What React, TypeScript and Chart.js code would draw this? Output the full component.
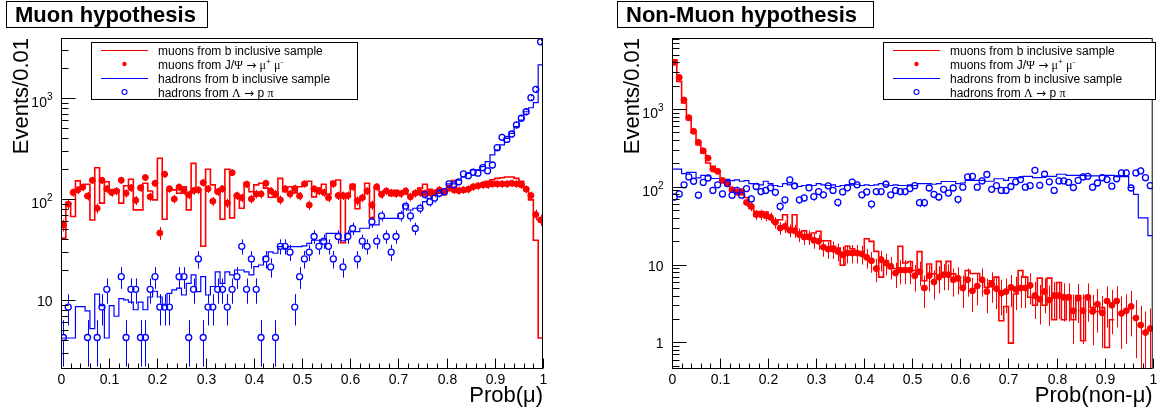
import React, { useEffect, useRef } from "react";
import { Chart, registerables } from "chart.js";

Chart.register(...registerables);

const FONT = '"Liberation Sans", Arial, Helvetica, sans-serif';
const GREEK_FONT = '"Liberation Serif", "DejaVu Serif", serif';
const ARROW_FONT = '"DejaVu Sans", sans-serif';
const RED = "#ff0000";
const BLUE = "#0000ff";

// 100 bins of width 0.01 on [0, 1]
const BIN_WIDTH = 0.01;

const xTickValues = [0, 0.1, 0.2, 0.3, 0.4, 0.5, 0.6, 0.7, 0.8, 0.9, 1];
const xTickLabels = ["0", "0.1", "0.2", "0.3", "0.4", "0.5", "0.6", "0.7", "0.8", "0.9", "1"];

const legendTexts = [
  "muons from b inclusive sample",
  "muons from J/\u03A8 \u2192 \u03BC^{+} \u03BC^{-}",
  "hadrons from b inclusive sample",
  "hadrons from \u039B \u2192 p \u03C0",
];

// ---------------- Muon hypothesis ----------------
const muHypYTickValues = [10, 100, 1000];
const muHypYTickLabels = ["10", "10^{2}", "10^{3}"];

const muHypMuonsB = [
  41, 91, 67, 151, 138, 140, 62, 204, 91, 148, 123, 123, 91, 135, 157, 78, 78, 143, 120, 98,
  253, 63, 123, 123, 114, 132, 78, 225, 123, 34, 197, 138, 121, 63, 197, 65, 110, 81, 145, 118,
  138, 143, 128, 104, 105, 160, 118, 132, 115, 132,
  135, 150, 105, 128, 140, 112, 150, 154, 37, 107, 140, 80, 100, 143, 65, 128, 118, 120, 108, 122,
  118, 112, 110, 118, 128, 140, 125, 112, 118, 110, 125, 152, 118, 118, 122, 130, 132, 140, 150, 155,
  160, 162, 165, 165, 160, 150, 130, 98, 39, 4.2,
];

const muHypMuonsJpsi = [
  55, 89, 116, 123, 131, 107, 153, 81, 153, 126, 116, 120, 153, 114, 129, 97, 129, 163, 105, 143,
  46, 176, 126, 100, 131, 121, 110, 121, 123, 145, 126, 95, 118, 126, 91, 182, 108, 103, 140, 100,
  112, 112, 143, 120, 112, 98, 126, 112, 127, 107,
  141, 87, 126, 120, 116, 103, 141, 108, 108, 108, 132, 96, 103, 120, 87, 132, 111, 120, 115, 113,
  113, 120, 105, 114, 116, 114, 115, 115, 123, 118, 128, 123, 121, 123, 125, 132, 135, 138, 138, 141,
  141, 141, 141, 143, 141, 138, 125, 108, 70, 62,
];

const muHypHadronsB = [
  4.2, 4.2, 4.2, 8.6, 8.6, 7.8, 5.2, 11.4, 8.8, 4.2, 8.8, 6.9, 10.3, 10, 9.5, 8, 9.5, 8, 10.7, 12.2,
  10.7, 8.9, 11.6, 12.6, 13.1, 11.2, 14.6, 17.7, 12.1, 17, 11.2, 13.6, 19, 14.6, 19, 17.7, 19.8, 19.8, 19, 17.7,
  21.4, 22.2, 26.9, 30, 29, 33.7, 32.4, 33.7, 33.7, 33.7,
  34.3, 36.4, 39, 39, 39.3, 45.7, 45.7, 45.7, 38.6, 45.7, 47.5, 47.5, 51.3, 51.3, 55.4, 55.4, 64.4, 64.4, 64.4, 64.4,
  72.2, 87.2, 77.8, 80.9, 80.9, 94.1, 101.6, 109.6, 113.8, 113.8, 140.8, 140.8, 154, 165, 179.6, 193.8, 193.8, 209, 234, 273,
  305.6, 342.7, 399, 447, 520, 605, 731, 800, 900, 2123,
];

const muHypHadronsLambda = [
  4.25, 8.5, 0, 0, 0, 4.25, 0, 4.25, 8.5, 12.75, 0, 0, 17, 4.25, 12.75, 12.75, 4.25, 4.25, 12.75, 17,
  8.5, 8.5, 8.5, 0, 17, 17, 4.25, 12.75, 25.5, 4.25, 8.5, 8.5, 12.75, 12.75, 8.5, 12.75, 17, 34, 12.75, 25.5,
  12.75, 4.25, 25.5, 21.25, 4.25, 34, 34, 29.75, 8.5, 17,
  25.5, 29.75, 42.5, 34, 38.25, 34, 25.5, 42.5, 21.25, 42.5, 51, 25.5, 38.25, 34, 59.5, 38.25, 68, 42.5, 29.75, 42.5,
  68, 85, 68, 51, 80.75, 110.5, 93.5, 102, 114, 118, 141, 138, 148, 177, 170, 184, 180, 204, 190, 217,
  322, 408, 389, 440, 541, 630, 731, 1007, 1219, 3600,
];

// ---------------- Non-Muon hypothesis ----------------
const nonMuYTickValues = [1, 10, 100, 1000];
const nonMuYTickLabels = ["1", "10", "10^{2}", "10^{3}"];

const nonMuMuonsB = [
  4300, 2270, 1195, 730, 491, 347, 272, 202, 183, 155, 120, 112, 92, 90, 79, 73, 53, 48, 48, 47.5,
  39.7, 35.3, 37.8, 43.8, 27.3, 43.8, 26, 27.3, 24.3, 25.5, 26.8, 20.3, 20.3, 17.2, 16.3, 9.8, 17.2, 16, 13.7, 14,
  21.5, 19.9, 14.8, 6.9, 11.2, 8.9, 8.9, 17.2, 10.5, 10.9,
  8.4, 14.7, 6.2, 10.2, 7.6, 11, 7.6, 11, 7.6, 6.2, 5.0, 8.4, 7.7, 7.7, 6.2, 5.1, 6.2, 6.9, 1.9, 2.9,
  0.98, 4.2, 8.4, 6.9, 3.8, 3.0, 6.7, 3.0, 6.7, 1.96, 5.9, 1.96, 4.0, 1.96, 4.0, 1.05, 4.0, 2.8, 2.5, 2.8,
  0.86, 1.96, 1.96, 0, 0.97, 0, 0.97, 0, 0, 0,
];

const nonMuMuonsJpsi = [
  3981, 2552, 1305, 775, 517, 373, 291, 234, 169, 158, 121, 110, 92, 86, 87, 63, 56, 44, 44, 42.5,
  40.5, 35, 29.5, 31, 27.6, 27.3, 24.3, 22.6, 22.6, 20.5, 19.9, 16.7, 15.8, 15.8, 14.8, 13.4, 14.1, 14.1, 14.1, 13.7,
  12.4, 11.2, 8.9, 11.6, 10.5, 9.5, 7.8, 8.5, 8.5, 8.5,
  7.2, 8.1, 5.0, 7.2, 6.0, 6.9, 7.4, 7.4, 6.4, 6.7, 5.0, 6.4, 4.6, 5.3, 6.4, 4.5, 5.6, 4.9, 4.3, 4.5,
  5.1, 4.8, 5.0, 5.0, 5.4, 4.0, 3.6, 4.5, 3.5, 4.0, 4.0, 3.8, 3.8, 2.55, 3.7, 2.55, 3.8, 2.5, 3.1, 2.4,
  3.4, 3.0, 3.4, 2.36, 2.55, 2.9, 2.06, 1.67, 1.34, 1.51,
];

const nonMuHadronsB = [
  169, 169, 148, 153, 153, 130, 140, 138, 128, 128, 123, 125, 120, 123, 118, 120, 110, 110, 106, 118,
  110, 104, 101, 110, 106, 110, 101, 104, 106, 104, 110, 106, 104, 106, 101, 104, 106, 110, 108, 104,
  106, 104, 106, 110, 106, 104, 106, 104, 104, 106,
  104, 110, 110, 110, 108, 110, 117, 117, 117, 110, 112, 121, 121, 121, 121, 118, 118, 127, 127, 121,
  131, 131, 131, 136, 136, 131, 131, 136, 136, 136, 145, 145, 140, 140, 140, 140, 138, 138, 138, 140,
  140, 140, 135, 135, 135, 98, 80, 40, 40, 23.6,
];

const nonMuHadronsLambda = [
  74, 81, 106, 134, 118, 78, 114, 130, 90, 106, 81, 110, 78, 90, 78, 95, 70, 101, 87, 90,
  97, 85, 56, 68, 123, 103, 68, 72, 97, 75, 87, 79, 103, 90, 63, 86, 97, 115, 106, 79,
  86, 60, 87, 87, 108, 79, 90, 87, 87, 95,
  103.5, 62.5, 62.5, 96.6, 80, 74, 93, 83, 96.6, 69, 99, 134, 136.5, 99, 119, 144, 93, 103.5, 90, 90,
  101, 116, 124, 99, 103.5, 163, 104.5, 145, 116, 90, 119, 119, 114, 98, 121, 134, 136.5, 99, 112, 131,
  124, 102, 127, 151, 151, 96.6, 151, 160, 131, 103.5,
];

type Box = [number, number, number, number];

interface PanelCfg {
  key: string;
  left: number;
  padding: { left: number; right: number; top: number; bottom: number };
  yMin: number;
  yMax: number;
  title: string;
  titleBox: Box;
  xTitle: string;
  yTitle: string;
  yTitleX: number;
  legendBox: Box;
  yTickValues: number[];
  yTickLabels: string[];
  muonsB: number[];
  muonsJpsi: number[];
  hadronsB: number[];
  hadronsLambda: number[];
}

const panels: PanelCfg[] = [
  {
    key: "mu",
    left: 0,
    padding: { left: 61, right: 36, top: 38, bottom: 45 },
    yMin: 2.12,
    yMax: 3926,
    title: "Muon hypothesis",
    titleBox: [6, 1, 208, 28],
    xTitle: "Prob(\u03BC)",
    yTitle: "Events/0.01",
    yTitleX: 28,
    legendBox: [91, 42, 358, 99],
    yTickValues: muHypYTickValues,
    yTickLabels: muHypYTickLabels,
    muonsB: muHypMuonsB,
    muonsJpsi: muHypMuonsJpsi,
    hadronsB: muHypHadronsB,
    hadronsLambda: muHypHadronsLambda,
  },
  {
    key: "nonmu",
    left: 579,
    padding: { left: 93, right: 2, top: 38, bottom: 45 },
    yMin: 0.469,
    yMax: 8185,
    title: "Non-Muon hypothesis",
    titleBox: [38, 1, 295, 28],
    xTitle: "Prob(non-\u03BC)",
    yTitle: "Events/0.01",
    yTitleX: 60,
    legendBox: [304, 42, 577, 99],
    yTickValues: nonMuYTickValues,
    yTickLabels: nonMuYTickLabels,
    muonsB: nonMuMuonsB,
    muonsJpsi: nonMuMuonsJpsi,
    hadronsB: nonMuHadronsB,
    hadronsLambda: nonMuHadronsLambda,
  },
];

function histPoints(vals: number[]) {
  const pts = vals.map((v, i) => ({ x: i * BIN_WIDTH, y: v }));
  pts.push({ x: vals.length * BIN_WIDTH, y: vals[vals.length - 1] });
  return pts;
}

function markerPoints(vals: number[]) {
  return vals.map((v, i) => ({ x: (i + 0.5) * BIN_WIDTH, y: v > 0 ? v : null }));
}

type Seg = { t: string; sup: boolean };

function parseRich(s: string): Seg[] {
  const segs: Seg[] = [];
  const re = /\^\{([^}]*)\}/g;
  let last = 0;
  let m: RegExpExecArray | null;
  while ((m = re.exec(s))) {
    if (m.index > last) segs.push({ t: s.slice(last, m.index), sup: false });
    segs.push({ t: m[1], sup: true });
    last = re.lastIndex;
  }
  if (last < s.length) segs.push({ t: s.slice(last), sup: false });
  return segs;
}

function familyFor(ch: string, mixed: boolean) {
  if (!mixed) return FONT;
  if (/[\u0370-\u03FF]/.test(ch)) return GREEK_FONT;
  if (/[\u2190-\u21FF]/.test(ch)) return ARROW_FONT;
  return FONT;
}

function runs(text: string, mixed: boolean) {
  const out: { t: string; f: string }[] = [];
  for (const ch of text) {
    const f = familyFor(ch, mixed);
    if (out.length && out[out.length - 1].f === f) out[out.length - 1].t += ch;
    else out.push({ t: ch, f });
  }
  return out;
}

function richWidth(ctx: CanvasRenderingContext2D, segs: Seg[], size: number, supSize: number, mixed = false) {
  let w = 0;
  for (const s of segs) {
    for (const r of runs(s.t, mixed)) {
      ctx.font = `${s.sup ? supSize : size}px ${r.f}`;
      w += ctx.measureText(r.t).width;
    }
  }
  return w;
}

function drawRich(
  ctx: CanvasRenderingContext2D,
  segs: Seg[],
  x: number,
  y: number,
  size: number,
  supSize: number,
  supRaise: number,
  mixed = false
) {
  let cx = x;
  for (const s of segs) {
    for (const r of runs(s.t, mixed)) {
      ctx.font = `${s.sup ? supSize : size}px ${r.f}`;
      ctx.fillText(r.t, cx, s.sup ? y - supRaise : y);
      cx += ctx.measureText(r.t).width;
    }
  }
}

function line(ctx: CanvasRenderingContext2D, x1: number, y1: number, x2: number, y2: number) {
  ctx.beginPath();
  ctx.moveTo(x1, y1);
  ctx.lineTo(x2, y2);
  ctx.stroke();
}

function makeRootPlugin(p: PanelCfg) {
  return {
    id: "rootStyle_" + p.key,
    beforeDatasetsDraw(chart: any) {
      const { ctx, chartArea: a } = chart;
      const xs = chart.scales.x;
      const ys = chart.scales.y;
      ctx.save();
      ctx.beginPath();
      ctx.rect(a.left, a.top, a.right - a.left, a.bottom - a.top);
      ctx.clip();
      ctx.lineWidth = 1;
      for (const ds of chart.data.datasets) {
        if (!ds.errorBars) continue;
        ctx.strokeStyle = ds.pointBorderColor;
        const gap = ds.hollow ? ds.pointRadius + 0.5 : 0;
        for (const pt of ds.data) {
          if (pt.y == null) continue;
          const e = Math.sqrt(pt.y);
          const x = Math.round(xs.getPixelForValue(pt.x)) + 0.5;
          const yc = ys.getPixelForValue(pt.y);
          const yTop = ys.getPixelForValue(pt.y + e);
          const yBot = pt.y - e > 0 ? ys.getPixelForValue(pt.y - e) : a.bottom + 2;
          ctx.beginPath();
          ctx.moveTo(x, yTop);
          ctx.lineTo(x, yc - gap);
          ctx.moveTo(x, yc + gap);
          ctx.lineTo(x, yBot);
          ctx.stroke();
        }
      }
      ctx.restore();
    },
    afterDatasetsDraw(chart: any) {
      const { ctx, chartArea: a } = chart;
      const xs = chart.scales.x;
      const ys = chart.scales.y;
      ctx.save();
      ctx.strokeStyle = "#000";
      ctx.fillStyle = "#000";
      ctx.lineWidth = 1;
      ctx.textBaseline = "alphabetic";

      // frame
      ctx.strokeRect(a.left + 0.5, a.top + 0.5, a.right - a.left - 1, a.bottom - a.top);

      // x axis ticks and labels
      ctx.font = `14px ${FONT}`;
      ctx.textAlign = "center";
      const yb = a.bottom + 0.5;
      for (let k = 0; k < xTickValues.length; k++) {
        const px = Math.round(xs.getPixelForValue(xTickValues[k])) + 0.5;
        line(ctx, px, yb, px, yb - 10);
        ctx.fillText(xTickLabels[k], px, a.bottom + 16);
        if (k < xTickValues.length - 1) {
          for (let m = 1; m < 5; m++) {
            const v = xTickValues[k] + ((xTickValues[k + 1] - xTickValues[k]) * m) / 5;
            const mx = Math.round(xs.getPixelForValue(v)) + 0.5;
            line(ctx, mx, yb, mx, yb - 5);
          }
        }
      }

      // y axis ticks (log)
      const dMin = Math.floor(Math.log10(p.yMin));
      const dMax = Math.ceil(Math.log10(p.yMax));
      const xl = a.left + 0.5;
      for (let d = dMin; d <= dMax; d++) {
        for (let m = 1; m <= 9; m++) {
          const v = m * Math.pow(10, d);
          if (v < p.yMin || v > p.yMax) continue;
          const py = Math.round(ys.getPixelForValue(v)) + 0.5;
          line(ctx, xl, py, xl + (m === 1 ? 14 : 7), py);
        }
      }
      // y labels
      ctx.textAlign = "left";
      for (let k = 0; k < p.yTickValues.length; k++) {
        const py = ys.getPixelForValue(p.yTickValues[k]);
        const segs = parseRich(p.yTickLabels[k]);
        const hasSup = segs.some((s) => s.sup);
        const w = richWidth(ctx, segs, 14, 10);
        const right = a.left - 8.5;
        drawRich(ctx, segs, right - w, py + (hasSup ? 9 : 6), 14, 10, 7);
      }

      // axis titles
      ctx.font = `22px ${FONT}`;
      ctx.textAlign = "right";
      ctx.fillText(p.xTitle, a.right, a.bottom + 34);
      ctx.save();
      ctx.translate(p.yTitleX, a.top);
      ctx.rotate(-Math.PI / 2);
      ctx.textAlign = "right";
      ctx.fillText(p.yTitle, 0, 0);
      ctx.restore();

      // legend
      const [lx0, ly0, lx1, ly1] = p.legendBox;
      ctx.fillStyle = "#fff";
      ctx.fillRect(lx0, ly0, lx1 - lx0, ly1 - ly0);
      ctx.strokeStyle = "#000";
      ctx.strokeRect(lx0 + 0.5, ly0 + 0.5, lx1 - lx0 - 1, ly1 - ly0);
      const rowY = [ly0 + 8, ly0 + 22, ly0 + 36, ly0 + 50];
      const sx0 = lx0 + 10;
      const sx1 = lx0 + 57;
      const smid = (sx0 + sx1) / 2;
      ctx.strokeStyle = RED;
      ctx.lineWidth = 1.2;
      line(ctx, sx0, rowY[0] + 0.5, sx1, rowY[0] + 0.5);
      ctx.fillStyle = RED;
      ctx.beginPath();
      ctx.arc(smid, rowY[1], 2.2, 0, Math.PI * 2);
      ctx.fill();
      ctx.strokeStyle = BLUE;
      line(ctx, sx0, rowY[2] + 0.5, sx1, rowY[2] + 0.5);
      ctx.lineWidth = 1.1;
      ctx.beginPath();
      ctx.arc(smid, rowY[3], 2.5, 0, Math.PI * 2);
      ctx.stroke();
      ctx.fillStyle = "#000";
      ctx.textAlign = "left";
      for (let k = 0; k < legendTexts.length; k++) {
        drawRich(ctx, parseRich(legendTexts[k]), lx0 + 67, rowY[k] + 4.5, 12, 8, 4.5, true);
      }

      // title box
      const [tx0, ty0, tx1, ty1] = p.titleBox;
      ctx.fillStyle = "#fff";
      ctx.fillRect(tx0, ty0, tx1 - tx0, ty1 - ty0);
      ctx.strokeStyle = "#000";
      ctx.lineWidth = 1;
      ctx.strokeRect(tx0 + 0.5, ty0 + 0.5, tx1 - tx0 - 1, ty1 - ty0 - 1);
      ctx.fillStyle = "#000";
      ctx.font = `bold 22px ${FONT}`;
      ctx.textAlign = "left";
      ctx.fillText(p.title, tx0 + 9, ty0 + 21);

      ctx.restore();
    },
  };
}

function Panel({ p }: { p: PanelCfg }) {
  const ref = useRef<HTMLCanvasElement>(null);
  useEffect(() => {
    const canvas = ref.current;
    if (!canvas) return;
    const chart = new Chart(canvas, {
      type: "line",
      data: {
        datasets: [
          {
            label: legendTexts[3],
            data: markerPoints(p.hadronsLambda) as any,
            showLine: false,
            pointRadius: 3,
            pointStyle: "circle",
            pointBorderColor: BLUE,
            pointBackgroundColor: "rgba(0,0,0,0)",
            pointBorderWidth: 1.3,
            borderColor: BLUE,
            errorBars: true,
            hollow: true,
            order: 1,
          } as any,
          {
            label: legendTexts[1],
            data: markerPoints(p.muonsJpsi) as any,
            showLine: false,
            pointRadius: 3,
            pointStyle: "circle",
            pointBorderColor: RED,
            pointBackgroundColor: RED,
            pointBorderWidth: 1,
            borderColor: RED,
            errorBars: true,
            hollow: false,
            order: 2,
          } as any,
          {
            label: legendTexts[2],
            data: histPoints(p.hadronsB),
            stepped: true,
            borderColor: BLUE,
            borderWidth: 1.2,
            pointRadius: 0,
            fill: false,
            order: 3,
          } as any,
          {
            label: legendTexts[0],
            data: histPoints(p.muonsB),
            stepped: true,
            borderColor: RED,
            borderWidth: 1.6,
            pointRadius: 0,
            fill: false,
            order: 4,
          } as any,
        ],
      },
      options: {
        responsive: false,
        animation: false,
        devicePixelRatio: 1,
        events: [],
        layout: { padding: p.padding },
        scales: {
          x: { type: "linear", min: 0, max: 1, display: false },
          y: { type: "logarithmic", min: p.yMin, max: p.yMax, display: false },
        },
        plugins: {
          legend: { display: false },
          tooltip: { enabled: false },
          title: { display: false },
        },
      },
      plugins: [makeRootPlugin(p)],
    });
    return () => chart.destroy();
  }, [p]);
  return (
    <canvas
      ref={ref}
      width={579}
      height={413}
      style={{ position: "absolute", left: p.left, top: 0, width: 579, height: 413 }}
    />
  );
}

export default function App() {
  return (
    <div
      style={{
        position: "fixed",
        left: 0,
        top: 0,
        width: 1158,
        height: 413,
        background: "#ffffff",
        overflow: "hidden",
      }}
    >
      {panels.map((p) => (
        <Panel key={p.key} p={p} />
      ))}
    </div>
  );
}
